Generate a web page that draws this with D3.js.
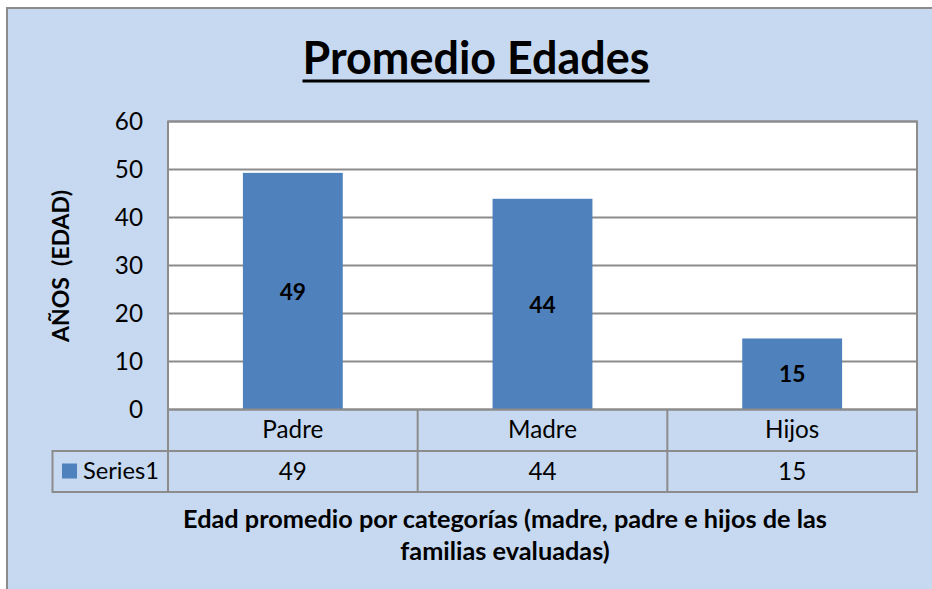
<!DOCTYPE html>
<html><head><meta charset="utf-8">
<script src="https://cdn.jsdelivr.net/npm/d3@7/dist/d3.min.js"></script>
<style>body{margin:0;background:#fff}svg{display:block}text{font-family:Lato,"Open Sans",sans-serif;white-space:pre}</style>
</head><body><svg id="c" width="932" height="589"></svg>
<script>
const categories = ["Padre", "Madre", "Hijos"];
const values = [49.3, 43.9, 14.8];
const tableValues = [49, 44, 15];
const seriesName = "Series1";
const yTicks = [0, 10, 20, 30, 40, 50, 60];
const title = "Promedio Edades";
const yTitle = "AÑOS  (EDAD)";
const xTitleLines = ["Edad promedio por categorías (madre, padre e hijos de las", "familias evaluadas)"];

const svg = d3.select("#c");
const BG = "#C6D9F0", BAR = "#4F81BD", LINE = "#8C8C8C";
const L = 168, R = 917, T = 121.5, B = 409.5, row1 = 451, row2 = 492, legL = 52.5;

function fit(sel, target) {
  const w = sel.node().getComputedTextLength();
  const fs = parseFloat(sel.attr("font-size"));
  sel.attr("font-size", fs * target / w);
  return fs * target / w;
}

svg.append("rect").attr("x", 7).attr("y", 8).attr("width", 1000).attr("height", 700)
  .attr("fill", BG).attr("stroke", LINE).attr("stroke-width", 2);

const x = d3.scaleBand().domain(categories).range([L, R]).paddingInner(0.6).paddingOuter(0.3);
const xc = d3.scaleBand().domain(categories).range([L, R]);
const y = d3.scaleLinear().domain([0, 60]).range([B, T]);

// plot area
svg.append("rect").attr("x", L).attr("y", T).attr("width", R - L).attr("height", B - T)
  .attr("fill", "#fff").attr("stroke", LINE).attr("stroke-width", 2);

// gridlines
svg.append("g").selectAll("line").data(yTicks.filter(d => d > 0)).join("line")
  .attr("x1", L).attr("x2", R).attr("y1", d => y(d)).attr("y2", d => y(d))
  .attr("stroke", LINE).attr("stroke-width", 2);

// y tick labels via axis
const yAxis = svg.append("g").attr("transform", `translate(${L},0)`)
  .call(d3.axisLeft(y).tickValues(yTicks).tickSize(0).tickPadding(25));
yAxis.select(".domain").remove();
yAxis.selectAll("text").attr("font-family", "Lato").attr("font-size", 23).attr("fill", "#000")
  .attr("dy", "0.34em");

// bars
svg.append("g").selectAll("rect").data(values).join("rect")
  .attr("x", (d, i) => x(categories[i])).attr("width", x.bandwidth())
  .attr("y", d => y(d)).attr("height", d => y(0) - y(d)).attr("fill", BAR);

// data labels
const lbl = svg.append("g").selectAll("text").data(values).join("text")
  .attr("x", (d, i) => x(categories[i]) + x.bandwidth() / 2)
  .attr("y", d => (y(d) + y(0)) / 2 + 8.5)
  .attr("text-anchor", "middle").attr("font-weight", "bold").attr("font-size", 23)
  .text(d => d3.format(".0f")(d));
const fsLbl = fit(d3.select(lbl.nodes()[0]), 26.4);
lbl.attr("font-size", fsLbl);

// data table
const tg = svg.append("g");
tg.append("rect").attr("x", L).attr("y", B).attr("width", R - L).attr("height", row1 - B)
  .attr("fill", "none").attr("stroke", LINE).attr("stroke-width", 2);
tg.append("rect").attr("x", legL).attr("y", row1).attr("width", R - legL).attr("height", row2 - row1)
  .attr("fill", "none").attr("stroke", LINE).attr("stroke-width", 2);
tg.selectAll("line.v").data(categories).join("line").attr("class", "v")
  .attr("x1", d => xc(d)).attr("x2", d => xc(d)).attr("y1", B).attr("y2", row2)
  .attr("stroke", LINE).attr("stroke-width", 2);
const catText = tg.selectAll("text.cat").data(categories).join("text").attr("class", "cat")
  .attr("x", d => xc(d) + xc.bandwidth() / 2).attr("y", 438)
  .attr("text-anchor", "middle").attr("font-size", 23).text(d => d);
const fsNorm = fit(d3.select(catText.nodes()[0]), 61);
catText.attr("font-size", fsNorm);
yAxis.selectAll("text").attr("font-size", fsNorm);
tg.selectAll("text.val").data(tableValues).join("text").attr("class", "val")
  .attr("x", (d, i) => xc(categories[i]) + xc.bandwidth() / 2).attr("y", 480)
  .attr("text-anchor", "middle").attr("font-size", fsNorm).text(d => d);
tg.append("rect").attr("x", 62).attr("y", 463.5).attr("width", 15).attr("height", 15).attr("fill", BAR);
const st = tg.append("text").attr("x", 83).attr("y", 479).attr("font-size", fsNorm).text(seriesName);
fit(st, 76);

// title
const tt = svg.append("text").attr("x", 476).attr("y", 74).attr("text-anchor", "middle")
  .attr("font-weight", "bold").attr("font-size", 44).text(title);
fit(tt, 347);
svg.append("rect").attr("x", 476 - 347 / 2).attr("y", 79.5).attr("width", 347).attr("height", 3).attr("fill", "#000");

// y title
const yt = svg.append("text").attr("transform", "translate(69,266) rotate(-90)")
  .attr("text-anchor", "middle").attr("font-weight", "bold").attr("font-size", 22).text(yTitle);
fit(yt, 152);

// x title
const xt1 = svg.append("text").attr("x", 505).attr("y", 528).attr("text-anchor", "middle")
  .attr("font-weight", "bold").attr("font-size", 22).text(xTitleLines[0]);
const fsX = fit(xt1, 644);
svg.append("text").attr("x", 505).attr("y", 560).attr("text-anchor", "middle")
  .attr("font-weight", "bold").attr("font-size", fsX).text(xTitleLines[1]);
</script></body></html>
